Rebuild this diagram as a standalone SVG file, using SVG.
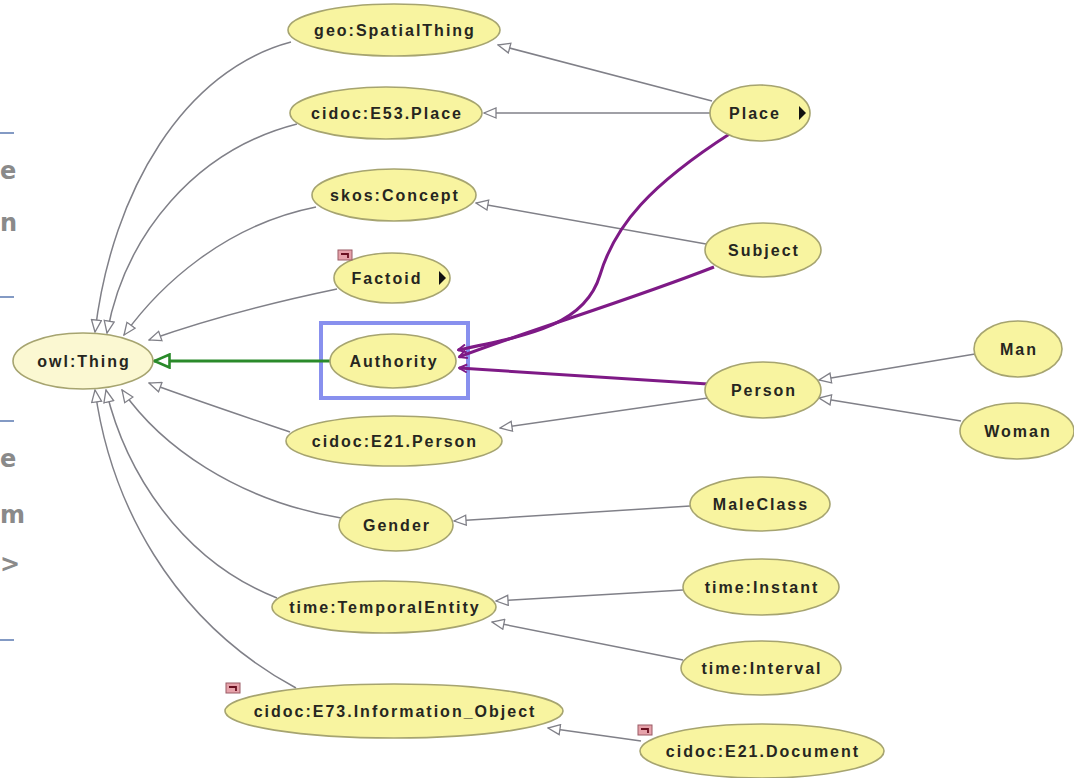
<svg xmlns="http://www.w3.org/2000/svg" width="1074" height="778" viewBox="0 0 1074 778">
  <style>
    .n ellipse { fill: #f8f4a0; stroke: #a6a470; stroke-width: 1.6; }
    .n text { font-family: "Liberation Sans", Arial, sans-serif; font-size: 16px; font-weight: bold; letter-spacing: 2px; fill: #262620; text-anchor: middle; dominant-baseline: central; }
    .root ellipse { fill: #fbf8d2; }
    .isa { fill: none; stroke: #808088; stroke-width: 1.5; marker-end: url(#hollow); }
    .rel { fill: none; stroke: #7e1a86; stroke-width: 3; marker-end: url(#relhead); }
    .sel { fill: none; stroke: #2a8a2a; stroke-width: 3; marker-end: url(#greenhead); }
    .frag { font-family: "DejaVu Sans", sans-serif; font-size: 24px; font-weight: bold; fill: #8a8a8a; }
    .rule { stroke: #5a78b0; stroke-width: 1.5; }
    .more { fill: #111; }
    .flag rect { fill: #e6a2aa; stroke: #9a5a64; stroke-width: 1; }
    .flag path { fill: none; stroke: #6a1020; stroke-width: 1.8; }
  </style>
  <defs>
    <marker id="hollow" viewBox="0 0 14 12" refX="13" refY="6" markerWidth="14" markerHeight="12" markerUnits="userSpaceOnUse" orient="auto">
      <path d="M1,1 L13,6 L1,11 Z" fill="#ffffff" stroke="#808088" stroke-width="1.3"/>
    </marker>
    <marker id="greenhead" viewBox="0 0 18 16" refX="17" refY="8" markerWidth="18" markerHeight="16" markerUnits="userSpaceOnUse" orient="auto">
      <path d="M1.5,1.5 L16.5,8 L1.5,14.5 Z" fill="#ffffff" stroke="#2a8a2a" stroke-width="2.6"/>
    </marker>
    <marker id="relhead" viewBox="0 0 10 10" refX="9" refY="5" markerWidth="10" markerHeight="10" markerUnits="userSpaceOnUse" orient="auto">
      <path d="M1,1 L9,5 L1,9" fill="none" stroke="#7e1a86" stroke-width="2"/>
    </marker>
  </defs>

  <rect width="1074" height="778" fill="#ffffff"/>

  <!-- slide fragments along the left edge -->
  <g id="slide-edge">
    <line class="rule" x1="0" y1="133" x2="14" y2="133"/>
    <line class="rule" x1="0" y1="297" x2="14" y2="297"/>
    <line class="rule" x1="0" y1="421" x2="14" y2="421"/>
    <line class="rule" x1="0" y1="640" x2="14" y2="640"/>
    <text class="frag" x="0" y="179">e</text>
    <text class="frag" x="0" y="231">n</text>
    <text class="frag" x="0" y="467">e</text>
    <text class="frag" x="0" y="523">m</text>
    <text class="frag" x="0" y="572">&gt;</text>
  </g>

  <!-- selection frame -->
  <rect id="selection" x="321" y="323" width="147" height="75" fill="none" stroke="#8890ee" stroke-width="4"/>

  <g id="connectors">
    <!-- subclass links to owl:Thing -->
    <path class="isa" d="M291,42 C185,70 112,190 95,332"/>
    <path class="isa" d="M297,124 C195,150 125,235 107,333"/>
    <path class="isa" d="M316,207 C225,225 160,285 124,335"/>
    <path class="isa" d="M337,289 C260,305 200,322 149,340"/>
    <path class="isa" d="M290,432 C240,415 195,400 149,383"/>
    <path class="isa" d="M341,518 C235,500 160,445 122,390"/>
    <path class="isa" d="M277,598 C180,560 125,470 106,390"/>
    <path class="isa" d="M296,688 C170,620 110,500 95,390"/>
    <!-- other subclass links -->
    <path class="isa" d="M712,101 L498,45"/>
    <path class="isa" d="M710,113 L484,113"/>
    <path class="isa" d="M706,244 L476,203"/>
    <path class="isa" d="M708,398 L500,428"/>
    <path class="isa" d="M975,354 L819,380"/>
    <path class="isa" d="M961,421 L819,398"/>
    <path class="isa" d="M690,506 L454,521"/>
    <path class="isa" d="M683,590 L496,601"/>
    <path class="isa" d="M683,660 L492,622"/>
    <path class="isa" d="M641,741 L548,728"/>
    <!-- Authority relations -->
    <path class="rel" d="M731,133 C650,185 615,225 600,275 C585,325 530,335 458,350"/>
    <path class="rel" d="M714,267 C630,300 530,330 459,357"/>
    <path class="rel" d="M708,384 L459,368"/>
    <!-- Authority to owl:Thing -->
    <path class="sel" d="M331,361 L154,361"/>
  </g>

  <g id="owl-Thing" class="n root">
    <ellipse cx="83" cy="361" rx="70" ry="28"/>
    <text x="84" y="361">owl:Thing</text>
  </g>
  <g id="geo-SpatialThing" class="n">
    <ellipse cx="394" cy="30" rx="106" ry="26"/>
    <text x="395" y="30">geo:SpatialThing</text>
  </g>
  <g id="cidoc-E53-Place" class="n">
    <ellipse cx="386" cy="113" rx="96" ry="26"/>
    <text x="387" y="113">cidoc:E53.Place</text>
  </g>
  <g id="skos-Concept" class="n">
    <ellipse cx="394" cy="195" rx="82" ry="26"/>
    <text x="395" y="195">skos:Concept</text>
  </g>
  <g id="Factoid" class="n">
    <ellipse cx="392" cy="278" rx="58" ry="25"/>
    <text x="387" y="278">Factoid</text>
    <path class="more" d="M439,271 L446,278 L439,285 Z"/>
    <g class="flag"><rect x="338" y="250" width="14" height="10"/><path d="M341,254 H348 V258"/></g>
  </g>
  <g id="Authority" class="n">
    <ellipse cx="393" cy="361" rx="63" ry="27"/>
    <text x="394" y="361">Authority</text>
  </g>
  <g id="cidoc-E21-Person" class="n">
    <ellipse cx="394" cy="441" rx="108" ry="25"/>
    <text x="395" y="441">cidoc:E21.Person</text>
  </g>
  <g id="Gender" class="n">
    <ellipse cx="396" cy="525" rx="57" ry="26"/>
    <text x="397" y="525">Gender</text>
  </g>
  <g id="time-TemporalEntity" class="n">
    <ellipse cx="384" cy="607" rx="112" ry="26"/>
    <text x="385" y="607">time:TemporalEntity</text>
  </g>
  <g id="cidoc-E73-Information_Object" class="n">
    <ellipse cx="394" cy="711" rx="169" ry="27"/>
    <text x="395" y="711">cidoc:E73.Information_Object</text>
    <g class="flag"><rect x="226" y="683" width="14" height="10"/><path d="M229,687 H236 V691"/></g>
  </g>
  <g id="cidoc-E21-Document" class="n">
    <ellipse cx="762" cy="751" rx="122" ry="27"/>
    <text x="763" y="751">cidoc:E21.Document</text>
    <g class="flag"><rect x="638" y="725" width="14" height="10"/><path d="M641,729 H648 V733"/></g>
  </g>
  <g id="Place" class="n">
    <ellipse cx="760" cy="113" rx="50" ry="28"/>
    <text x="755" y="113">Place</text>
    <path class="more" d="M799,106 L806,113 L799,120 Z"/>
  </g>
  <g id="Subject" class="n">
    <ellipse cx="763" cy="250" rx="58" ry="27"/>
    <text x="764" y="250">Subject</text>
  </g>
  <g id="Person" class="n">
    <ellipse cx="763" cy="390" rx="58" ry="28"/>
    <text x="764" y="390">Person</text>
  </g>
  <g id="Man" class="n">
    <ellipse cx="1018" cy="349" rx="44" ry="28"/>
    <text x="1019" y="349">Man</text>
  </g>
  <g id="Woman" class="n">
    <ellipse cx="1017" cy="431" rx="57" ry="28"/>
    <text x="1018" y="431">Woman</text>
  </g>
  <g id="MaleClass" class="n">
    <ellipse cx="760" cy="504" rx="70" ry="27"/>
    <text x="761" y="504">MaleClass</text>
  </g>
  <g id="time-Instant" class="n">
    <ellipse cx="761" cy="587" rx="78" ry="28"/>
    <text x="762" y="587">time:Instant</text>
  </g>
  <g id="time-Interval" class="n">
    <ellipse cx="761" cy="668" rx="80" ry="27"/>
    <text x="762" y="668">time:Interval</text>
  </g>
</svg>
